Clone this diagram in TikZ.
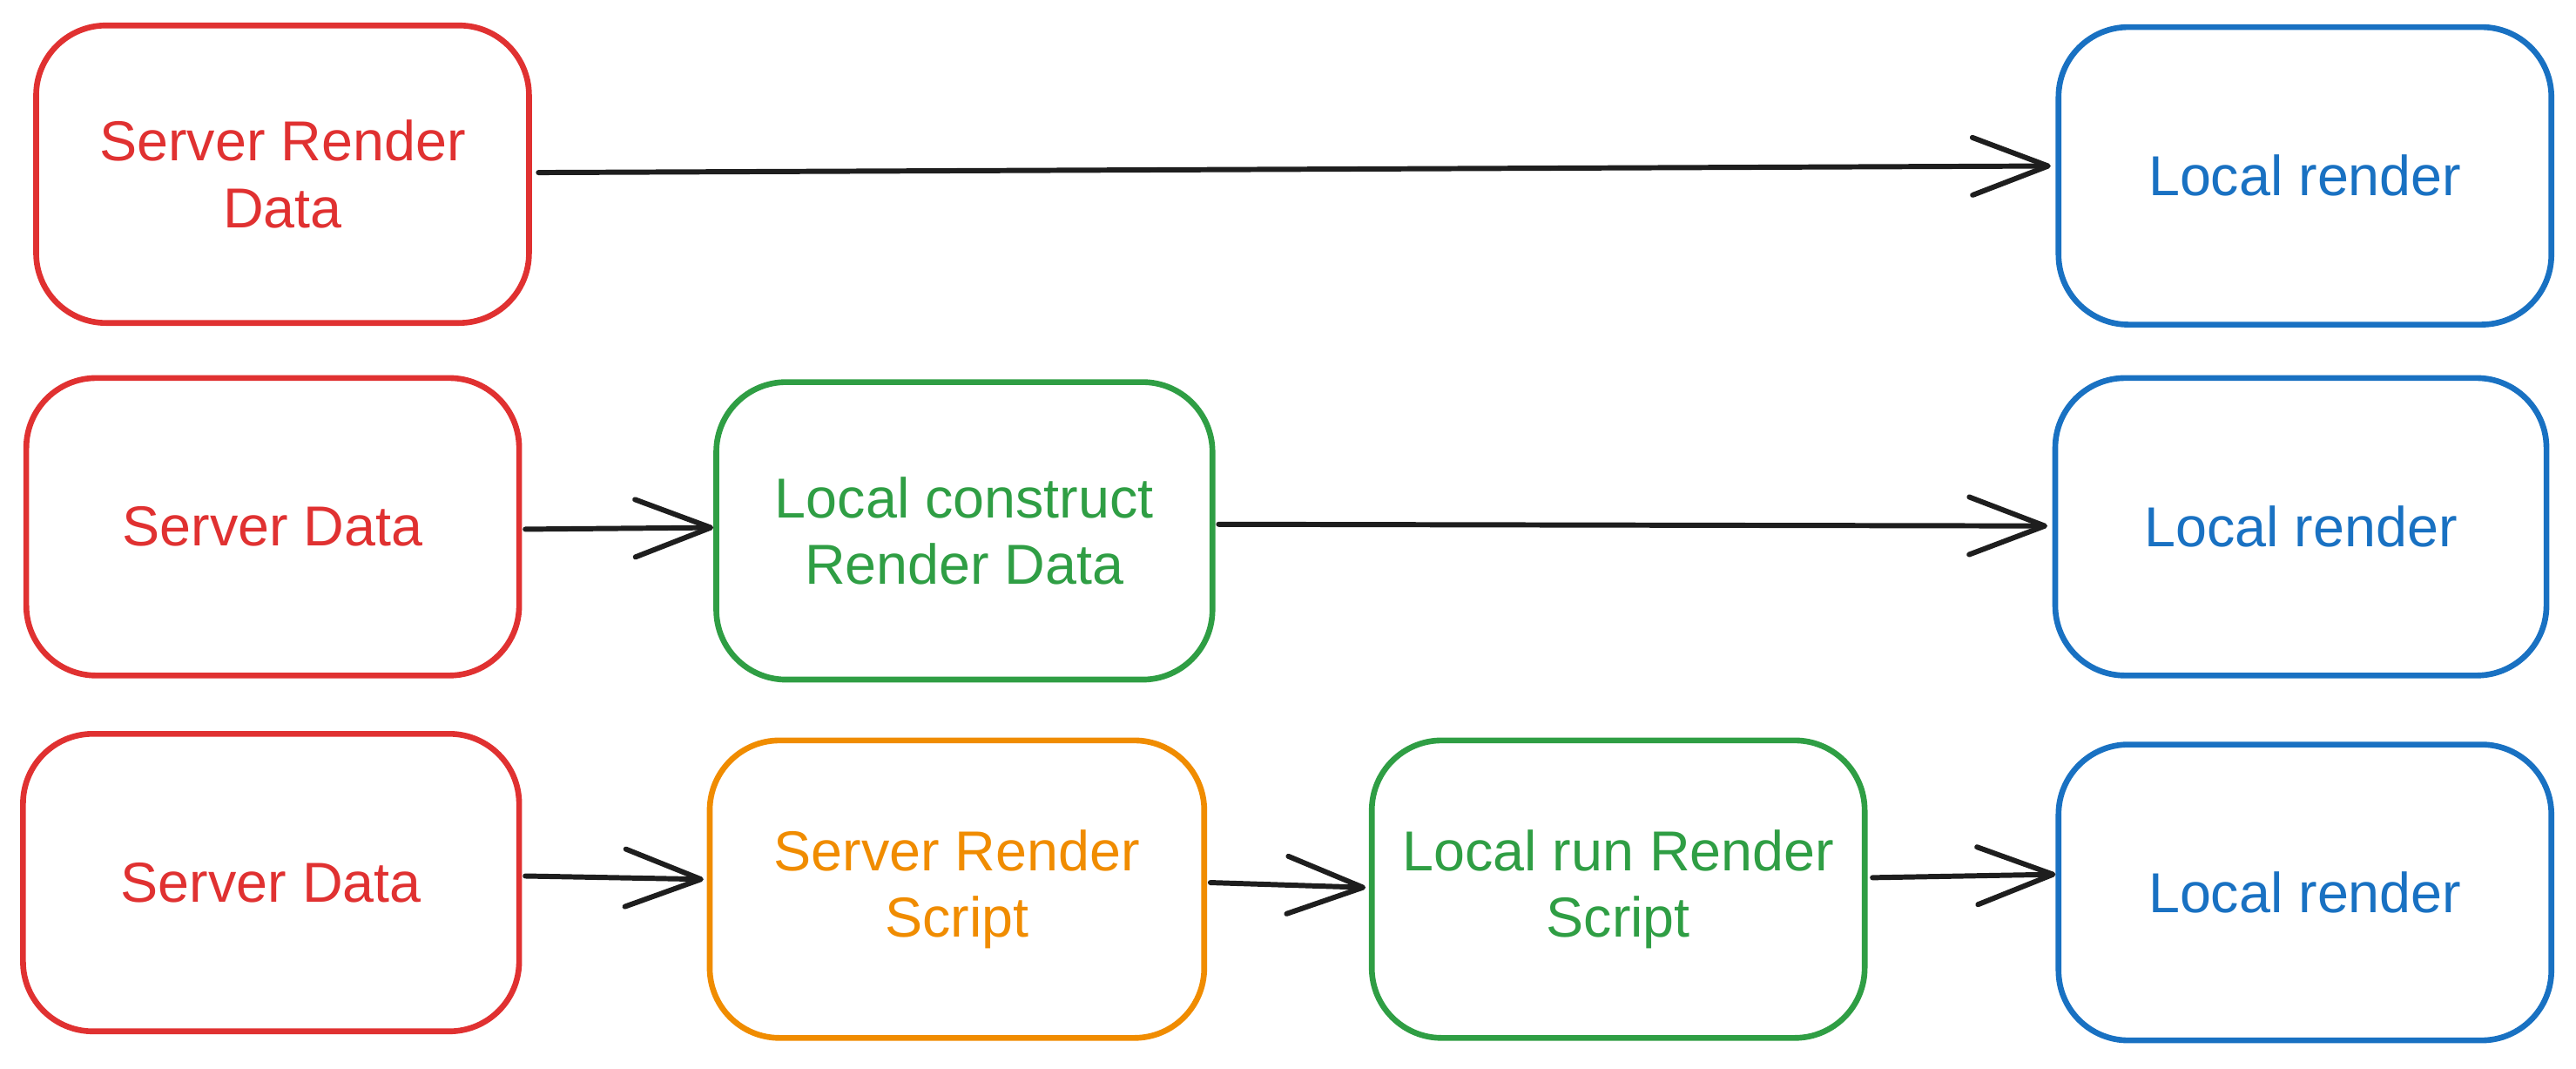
\documentclass[tikz,border=0pt]{standalone}
\usepackage{fontspec}
\setmainfont{Liberation Sans}
\usetikzlibrary{arrows.meta}
\definecolor{xred}{HTML}{E03131}
\definecolor{xblue}{HTML}{1971C2}
\definecolor{xgreen}{HTML}{2F9E44}
\definecolor{xorange}{HTML}{F08C00}
\definecolor{xblack}{HTML}{1E1E1E}
\tikzset{
  box/.style={draw, line width=2pt, rounded corners=0.85cm, minimum width=6cm, minimum height=3.62cm,
    align=center, inner sep=0pt, font=\fontsize{19.5}{23}\selectfont},
  redbox/.style={box, draw=xred, text=xred},
  bluebox/.style={box, draw=xblue, text=xblue},
  greenbox/.style={box, draw=xgreen, text=xgreen},
  orangebox/.style={box, draw=xorange, text=xorange},
  arr/.style={draw=xblack, line width=1.8pt, line cap=round,
    -{Straight Barb[length=0.92cm, width=0.7cm, line width=1.8pt, round]}}
}
\begin{document}
\begin{tikzpicture}
\useasboundingbox (0,0) rectangle (31.36,-13);
% row 1
\node[redbox] (a1) at (3.44,-2.12) {Server Render\\Data};
\node[bluebox] (b1) at (28.06,-2.14) {Local render};
% row 2
\node[redbox] (a2) at (3.32,-6.41) {Server Data};
\node[greenbox, minimum width=6.04cm] (g2) at (11.74,-6.46) {Local construct\\Render Data};
\node[bluebox, minimum width=5.98cm] (b2) at (28.01,-6.41) {Local render};
% row 3
\node[redbox, minimum width=6.04cm] (a3) at (3.30,-10.74) {Server Data};
\node[orangebox, minimum width=6.02cm] (o3) at (11.65,-10.82) {Server Render\\Script};
\node[greenbox] (g3) at (19.70,-10.82) {Local run Render\\Script};
\node[bluebox, minimum height=3.6cm] (b3) at (28.06,-10.86) {Local render};
% arrows
\draw[arr] ([xshift=0.08cm,yshift=0.02cm]a1.east) -- ([xshift=-0.06cm,yshift=0.12cm]b1.west);
\draw[arr] ([xshift=0.04cm,yshift=-0.03cm]a2.east) -- ([yshift=0.04cm]g2.west);
\draw[arr] ([xshift=0.04cm,yshift=0.08cm]g2.east) -- ([xshift=-0.06cm,yshift=0.01cm]b2.west);
\draw[arr] ([xshift=0.04cm,yshift=0.08cm]a3.east) -- ([xshift=-0.04cm,yshift=0.12cm]o3.west);
\draw[arr] ([xshift=0.04cm,yshift=0.08cm]o3.east) -- ([xshift=-0.04cm,yshift=0.02cm]g3.west);
\draw[arr] ([xshift=0.06cm,yshift=0.14cm]g3.east) -- ([yshift=0.22cm]b3.west);
\end{tikzpicture}
\end{document}
